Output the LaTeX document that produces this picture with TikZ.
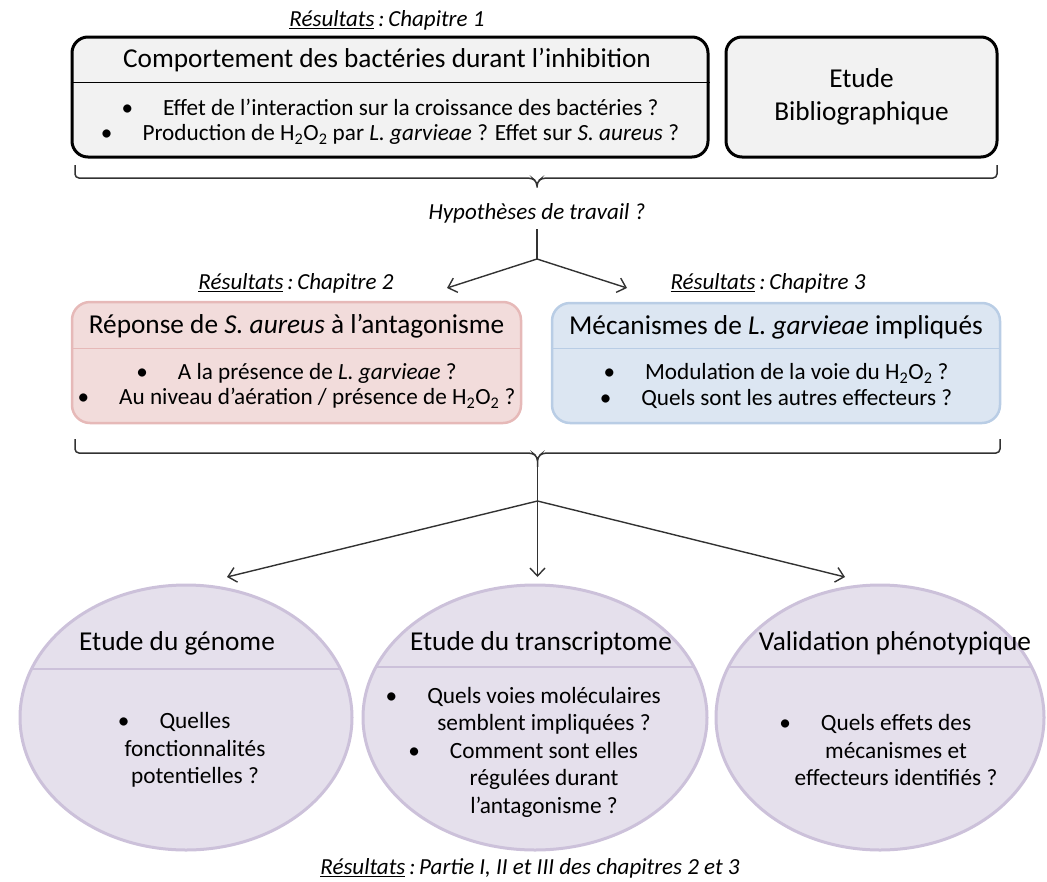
\documentclass[tikz,border=0pt]{standalone}
\usepackage{fontspec}
\setmainfont{Carlito}
\usetikzlibrary{positioning, shapes.geometric, arrows.meta, calc}
\definecolor{mygris}{RGB}{242,242,242}
\definecolor{myrouge}{RGB}{242,220,219}
\definecolor{myrougebord}{RGB}{230,185,184}
\definecolor{mybleu}{RGB}{220,230,242}
\definecolor{mybleubord}{RGB}{185,205,229}
\definecolor{myviolet}{RGB}{229,224,236}
\definecolor{myvioletbord}{RGB}{204,193,218}
\definecolor{mytrait}{RGB}{50,50,50}
\tikzset{
  boite/.style={draw, rounded corners=16, line width=3, fill=mygris, inner sep=0},
  boiterouge/.style={draw=myrougebord, rounded corners=18, line width=2.5, fill=myrouge, inner sep=0},
  boitebleue/.style={draw=mybleubord, rounded corners=18, line width=2.5, fill=mybleu, inner sep=0},
  bulle/.style={ellipse, draw=myvioletbord, line width=3, fill=myviolet, inner sep=0},
  titre/.style={font=\fontsize{27.3}{33}\selectfont, align=center, inner sep=0},
  corps/.style={font=\fontsize{23.2}{25.5}\selectfont, align=center, inner sep=0},
  corpsbulle/.style={font=\fontsize{23.3}{27.5}\selectfont, align=center, inner sep=0},
  res/.style={font=\fontsize{23}{26}\selectfont\itshape, inner sep=0},
  accolade/.style={color=mytrait, line width=1.5, rounded corners=4},
  fleche/.style={-{Straight Barb[length=8pt, width=15pt]}, color=mytrait, line width=1.4},
  trait/.style={color=mytrait, line width=1.4}
}
\newcommand{\puce}{\textbullet\hspace{30pt}}
\newcommand{\pucebulle}{\llap{\textbullet\hspace{30pt}}}
\newcommand{\resu}{\underline{Résultats}\,:\,}

\begin{document}
\begin{tikzpicture}[x=1pt, y=-1pt]
\useasboundingbox (0,0) rectangle (1047,881);

% chapitre 1
\node [res] (res1) at (387,20) {\resu Chapitre 1};
\node [boite, minimum width=636, minimum height=120] (comport) at (390,97) {};
\draw [line width=1] (comport.west |- 0,82) -- (comport.east |- 0,82);
\node [titre] (comporttitre) at (387,60) {Comportement des bactéries durant l’inhibition};
\node [corps] (comportcorps) at (390,122) {\puce Effet de l’interaction sur la croissance des bactéries ?\\
  \puce Production de H\textsubscript{2}O\textsubscript{2} par \textit{L. garvieae} ? Effet sur \textit{S. aureus} ?};

\node [boite, titre, minimum width=271, minimum height=120] (biblio) at (861.5,97) {Etude\\Bibliographique};

\coordinate (accol1) at (537,178);
\coordinate (pointe1) at (537,190);
\draw [accolade] (75,165) |- ($(accol1)+(-5,0)$) -- ($(accol1)+(0,4)$) -- (pointe1)
  -- ($(accol1)+(0,4)$) -- ($(accol1)+(5,0)$) -| (997,165);

\node [res] (hypo) at (537,213) {Hypothèses de travail ?};
\coordinate (fourche1) at (537,259);
\coordinate (versrep) at (447,288);
\coordinate (versmeca) at (627,288);
\draw [trait, shorten <=6] (hypo.south) -- (fourche1);
\draw [fleche] (fourche1) -- (versrep);
\draw [fleche] (fourche1) -- (versmeca);

% chapitres 2 et 3
\node [res] (res2) at (296,283) {\resu Chapitre 2};
\node [res] (res3) at (768,283) {\resu Chapitre 3};

\node [boiterouge, minimum width=449, minimum height=121] (reponse) at (296.5,362.5) {};
\draw [myrougebord, line width=1] (reponse.west |- 0,348) -- (reponse.east |- 0,348);
\node [titre] (reponsetitre) at (296.5,326) {Réponse de \textit{S. aureus} à l’antagonisme};
\node [corps] (reponsecorps) at (296.5,386) {\puce A la présence de \textit{L. garvieae} ?\\
  \puce Au niveau d’aération / présence de H\textsubscript{2}O\textsubscript{2} ?};

\node [boitebleue, minimum width=448, minimum height=120] (meca) at (776,363) {};
\draw [mybleubord, line width=1] (meca.west |- 0,348) -- (meca.east |- 0,348);
\node [titre] (mecatitre) at (776,327) {Mécanismes de \textit{L. garvieae} impliqués};
\node [corps] (mecacorps) at (776,386) {\puce Modulation de la voie du H\textsubscript{2}O\textsubscript{2} ?\\
  \puce Quels sont les autres effecteurs ?};

\coordinate (accol2) at (537.5,453);
\coordinate (pointe2) at (537.5,463);
\draw [accolade] (75,439) |- ($(accol2)+(-5,0)$) -- ($(accol2)+(0,4)$) -- (pointe2)
  -- ($(accol2)+(0,4)$) -- ($(accol2)+(5,0)$) -| (1000,439);
\coordinate (fourche2) at (537.5,501);
\coordinate (versgenome) at (227,577);
\coordinate (verstranscr) at (537.5,577);
\coordinate (verspheno) at (845,577);
\draw [fleche] (pointe2) -- (verstranscr);
\draw [fleche] (fourche2) -- (versgenome);
\draw [fleche] (fourche2) -- (verspheno);

% etudes
\node [bulle, minimum width=332, minimum height=265] (genome) at (186,717.5) {};
\draw [myvioletbord, line width=1.2] ($(genome.center)+(-154.7,-48.5)$) -- ($(genome.center)+(154.7,-48.5)$);
\node [titre] (genometitre) at (177,643) {Etude du génome};
\node [corpsbulle] (genomecorps) at (195,750) {\pucebulle Quelles\\fonctionnalités\\potentielles ?};

\node [bulle, minimum width=344, minimum height=265] (transcr) at (535,717.5) {};
\draw [myvioletbord, line width=1.2] ($(transcr.center)+(-160.3,-50.5)$) -- ($(transcr.center)+(160.3,-50.5)$);
\node [titre] (transcrtitre) at (541,643) {Etude du transcriptome};
\node [corpsbulle] (transcrcorps) at (544,752) {\pucebulle Quels voies moléculaires\\semblent impliquées ?\\
  \pucebulle Comment sont elles\\régulées durant\\l’antagonisme ?};

\node [bulle, minimum width=328, minimum height=265] (pheno) at (880,717.5) {};
\draw [myvioletbord, line width=1.2] ($(pheno.center)+(-152.8,-50.5)$) -- ($(pheno.center)+(152.8,-50.5)$);
\node [titre] (phenotitre) at (895,643) {Validation phénotypique};
\node [corpsbulle] (phenocorps) at (896,750) {\pucebulle Quels effets des\\mécanismes et\\effecteurs identifiés ?};

\node [res] (resfin) at (530,868) {\resu Partie I, II et III des chapitres 2 et 3};

\end{tikzpicture}
\end{document}
